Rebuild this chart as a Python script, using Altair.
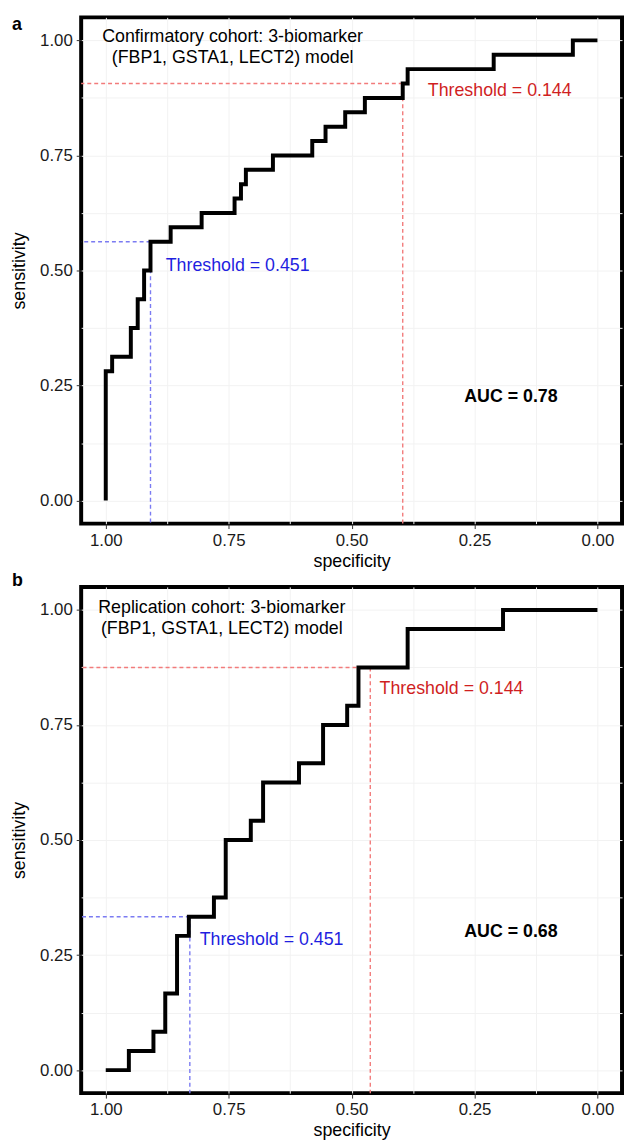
import altair as alt
import pandas as pd

# ---------------- data ----------------
# Panel a: confirmatory cohort ROC vertices (specificity, sensitivity)
a_spec = [1.0, 1.0, 0.987, 0.987, 0.949, 0.949, 0.935, 0.935, 0.922, 0.922,
          0.909, 0.909, 0.868, 0.868, 0.805, 0.805, 0.738, 0.738, 0.725, 0.725,
          0.715, 0.715, 0.660, 0.660, 0.580, 0.580, 0.553, 0.553, 0.513, 0.513,
          0.473, 0.473, 0.396, 0.396, 0.386, 0.386, 0.211, 0.211, 0.050, 0.050, 0.0]
a_sens = [0.0, 0.28125, 0.28125, 0.3125, 0.3125, 0.375, 0.375, 0.4375, 0.4375, 0.5,
          0.5, 0.5625, 0.5625, 0.59375, 0.59375, 0.625, 0.625, 0.65625, 0.65625, 0.6875,
          0.6875, 0.71875, 0.71875, 0.75, 0.75, 0.78125, 0.78125, 0.8125, 0.8125, 0.84375,
          0.84375, 0.875, 0.875, 0.90625, 0.90625, 0.9375, 0.9375, 0.96875, 0.96875, 1.0, 1.0]

# Panel b: replication cohort ROC vertices
b_spec = [1.0, 0.953, 0.953, 0.903, 0.903, 0.879, 0.879, 0.855, 0.855, 0.831,
          0.831, 0.780, 0.780, 0.756, 0.756, 0.705, 0.705, 0.680, 0.680, 0.607,
          0.607, 0.558, 0.558, 0.509, 0.509, 0.486, 0.486, 0.386, 0.386, 0.192,
          0.192, 0.0]
b_sens = [0.0, 0.0, 0.0417, 0.0417, 0.0833, 0.0833, 0.1667, 0.1667, 0.2917, 0.2917,
          0.3333, 0.3333, 0.375, 0.375, 0.5, 0.5, 0.5417, 0.5417, 0.625, 0.625,
          0.6667, 0.6667, 0.75, 0.75, 0.7917, 0.7917, 0.875, 0.875, 0.9583, 0.9583,
          1.0, 1.0]

# thresholds: [blue (0.451), red (0.144)]
thr_labels = ["Threshold = 0.451", "Threshold = 0.144"]
a_thr_spec = [0.909, 0.396]
a_thr_sens = [0.5625, 0.90625]
b_thr_spec = [0.829, 0.462]
b_thr_sens = [0.3333, 0.875]
# label anchor positions (left edge, vertical middle), in data units
a_lab_spec = [0.878, 0.345]
a_lab_sens = [0.510, 0.890]
b_lab_spec = [0.809, 0.443]
b_lab_sens = [0.283, 0.828]

a_header = ["Confirmatory cohort: 3-biomarker", "(FBP1, GSTA1, LECT2) model"]
a_header_spec = [0.742, 0.742]
a_header_sens = [1.008, 0.961]
b_header = ["Replication cohort: 3-biomarker", "(FBP1, GSTA1, LECT2) model"]
b_header_spec = [0.764, 0.764]
b_header_sens = [1.005, 0.958]

a_auc = ["AUC = 0.78"]
a_auc_pos = [0.176, 0.225]
b_auc = ["AUC = 0.68"]
b_auc_pos = [0.176, 0.30]

panel_letters = ["a", "b"]

tick_values = [0, 0.125, 0.25, 0.375, 0.5, 0.625, 0.75, 0.875, 1.0]

LINE_COLORS = ["#7b7bf2", "#f27b7b"]
TEXT_COLORS = ["#1f1fe0", "#d01f1f"]

W, H = 547, 512
FONT = "Liberation Sans"

major_test = "(datum.value * 4) % 1 == 0"


def make_axis(title, title_pad):
    return alt.Axis(
        title=title,
        values=tick_values,
        labelExpr="(datum.value * 4) % 1 == 0 ? format(datum.value, '.2f') : ''",
        tickOpacity={"condition": {"test": major_test, "value": 1}, "value": 0},
        labelFontSize=17,
        labelFont=FONT,
        labelColor="#1a1a1a",
        labelPadding=4,
        tickSize=5,
        tickColor="#333333",
        tickWidth=1,
        domain=False,
        grid=True,
        gridColor="#f2f2f2",
        gridWidth=1,
        titleFont=FONT,
        titleFontSize=18,
        titleFontWeight="normal",
        titleColor="black",
        titlePadding=title_pad,
    )


def panel(spec, sens, thr_spec, thr_sens, lab_spec, lab_sens, header, header_spec,
          header_sens, auc, auc_pos, letter, letter_y):
    xs = alt.Scale(domain=[-0.05, 1.05], reverse=True, nice=False, zero=False)
    ys = alt.Scale(domain=[-0.05, 1.05], nice=False, zero=False)

    curve_df = pd.DataFrame({"spec": spec, "sens": sens, "i": list(range(len(spec)))})
    curve = alt.Chart(curve_df).mark_line(
        color="black", strokeWidth=4, strokeJoin="miter", strokeCap="butt"
    ).encode(
        x=alt.X("spec:Q", scale=xs, axis=make_axis("specificity", 4)),
        y=alt.Y("sens:Q", scale=ys, axis=make_axis("sensitivity", 11)),
        order="i:Q",
    )

    layers = []
    for k in range(2):
        tdf = pd.DataFrame({"spec": [thr_spec[k]], "sens": [thr_sens[k]],
                            "lspec": [lab_spec[k]], "lsens": [lab_sens[k]],
                            "label": [thr_labels[k]]})
        hrule = alt.Chart(tdf).mark_rule(
            color=LINE_COLORS[k], strokeWidth=1.4, strokeDash=[4, 3]
        ).encode(x=alt.X("spec:Q", scale=xs), x2=alt.value(0),
                 y=alt.Y("sens:Q", scale=ys))
        vrule = alt.Chart(tdf).mark_rule(
            color=LINE_COLORS[k], strokeWidth=1.4, strokeDash=[4, 3]
        ).encode(x=alt.X("spec:Q", scale=xs),
                 y=alt.Y("sens:Q", scale=ys), y2=alt.value(H))
        txt = alt.Chart(tdf).mark_text(
            color=TEXT_COLORS[k], fontSize=18, align="left", baseline="middle", font=FONT
        ).encode(x=alt.X("lspec:Q", scale=xs), y=alt.Y("lsens:Q", scale=ys),
                 text="label:N")
        layers += [hrule, vrule, txt]

    hdf = pd.DataFrame({"spec": header_spec, "sens": header_sens, "t": header})
    head = alt.Chart(hdf).mark_text(
        color="black", fontSize=18, align="center", baseline="middle", font=FONT
    ).encode(x=alt.X("spec:Q", scale=xs), y=alt.Y("sens:Q", scale=ys), text="t:N")

    adf = pd.DataFrame({"spec": [auc_pos[0]], "sens": [auc_pos[1]], "t": auc})
    auct = alt.Chart(adf).mark_text(
        color="black", fontSize=18, fontWeight="bold", align="center",
        baseline="middle", font=FONT
    ).encode(x=alt.X("spec:Q", scale=xs), y=alt.Y("sens:Q", scale=ys), text="t:N")

    ldf = pd.DataFrame({"t": [letter]})
    let = alt.Chart(ldf).mark_text(
        color="black", fontSize=18, fontWeight="bold", align="left",
        baseline="alphabetic", font=FONT
    ).encode(x=alt.value(-70), y=alt.value(letter_y), text="t:N")

    return alt.layer(*layers, curve, head, auct, let).properties(width=W, height=H)


pa = panel(a_spec, a_sens, a_thr_spec, a_thr_sens, a_lab_spec, a_lab_sens,
           a_header, a_header_spec, a_header_sens, a_auc, a_auc_pos,
           panel_letters[0], 13)
pb = panel(b_spec, b_sens, b_thr_spec, b_thr_sens, b_lab_spec, b_lab_sens,
           b_header, b_header_spec, b_header_sens, b_auc, b_auc_pos,
           panel_letters[1], -1)

chart = alt.vconcat(pa, pb, spacing=-2).properties(
    padding=0, background="white"
).configure(font=FONT).configure_view(
    stroke="black", strokeWidth=4
)

chart.save("out.html", embed_options={"renderer": "svg", "actions": False})
